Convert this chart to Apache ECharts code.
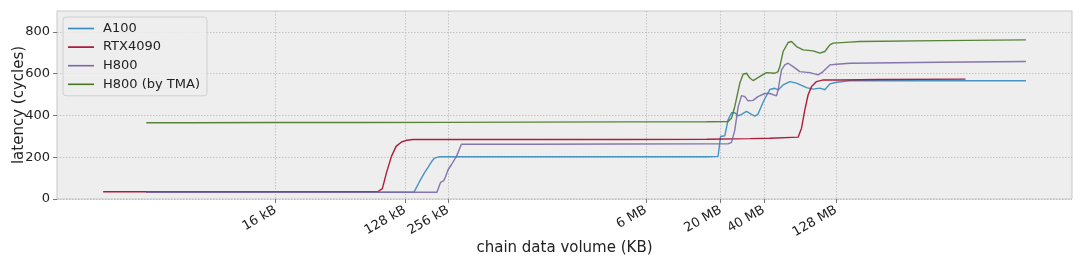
<!DOCTYPE html>
<html>
<head>
<meta charset="utf-8">
<script src="https://cdn.jsdelivr.net/npm/echarts@6/dist/echarts.min.js"></script>
<style>
html,body{margin:0;padding:0;background:#fff;}
#chart{width:1080px;height:274px;}
</style>
</head>
<body>
<div id="chart"></div>
<script>
// x tick positions (kB) and labels
const tickSizesKB = [16, 128, 256, 6144, 20480, 40960, 131072];
const tickLabels = ['16 kB', '128 kB', '256 kB', '6 MB', '20 MB', '40 MB', '128 MB'];
const yTicks = [0, 200, 400, 600, 800];

const seriesNames = ['A100', 'RTX4090', 'H800', 'H800 (by TMA)'];

// A100
const a100SizeKB = [2, 4, 16, 64, 128, 148, 162, 175, 185, 196, 206, 224, 256, 1024, 4096, 16384, 19649, 20100, 20425, 21900, 23075, 24375, 25707, 27102, 28626, 31023, 33621, 35458, 37241, 39335, 41649, 45135, 48913, 51560, 55877, 62257, 69318, 81402, 90524, 100860, 109314, 118456, 131890, 163398, 524288, 2769000];
const a100Latency = [32, 32, 32, 32, 32, 33, 84, 125, 150, 178, 196, 203, 202, 202, 202, 202, 204, 206, 299, 303, 379, 413, 413, 398, 405, 419, 405, 397, 405, 443, 481, 524, 530, 522, 546, 562, 555, 533, 526, 531, 523, 551, 559, 566, 566, 566];

// RTX4090
const rtxSizeKB = [1, 2, 4, 8, 16, 32, 64, 83, 89, 95, 103, 111, 121, 131, 146, 256, 1024, 4096, 16384, 32768, 45000, 71126, 75124, 79239, 83533, 88230, 95616, 106324, 139120, 262144, 1048576];
const rtxLatency = [35, 35, 35, 35, 35, 35, 35, 36, 50, 125, 204, 252, 273, 281, 285, 285, 285, 285, 286, 289, 291, 296, 339, 427, 499, 538, 562, 570, 570, 572, 574];

// H800
const h800SizeKB = [2, 4, 16, 64, 128, 214, 227, 239, 246, 256, 270, 293, 317, 1024, 4096, 16384, 23075, 24375, 25007, 25707, 27102, 28626, 30197, 31829, 34492, 37241, 41649, 45135, 50256, 51560, 54461, 57446, 60559, 65627, 73119, 85878, 98107, 106324, 118456, 131890, 163398, 694682, 2769000];
const h800Latency = [32, 32, 32, 32, 32, 32, 80, 88, 108, 140, 164, 204, 262, 262, 263, 264, 264, 271, 280, 330, 440, 495, 490, 470, 472, 490, 505, 505, 494, 523, 618, 642, 650, 634, 610, 605, 594, 610, 642, 645, 650, 655, 658];

// H800 (by TMA)
const tmaSizeKB = [2, 4, 16, 64, 256, 1024, 4096, 16384, 23075, 24375, 25707, 27864, 29372, 31023, 32745, 34492, 38287, 42792, 48913, 51560, 53009, 55877, 60559, 63963, 69318, 77069, 90524, 100860, 109314, 118456, 124866, 163398, 191902, 694682, 2769000];
const tmaLatency = [365, 365, 366, 366, 367, 368, 369, 370, 371, 387, 443, 555, 597, 602, 579, 567, 586, 605, 602, 610, 634, 706, 749, 754, 730, 714, 709, 698, 706, 738, 746, 751, 754, 758, 762];

const colors = ['#348ABD', '#A60628', '#7A68A6', '#467821'];

function pairs(sizes, lat) {
  return sizes.map((s, i) => [Math.log2(s), lat[i]]);
}
const tickPos = tickSizesKB.map(v => Math.log2(v));
function tickLabel(v) {
  let best = 0, bd = Infinity;
  tickPos.forEach((p, i) => { const d = Math.abs(p - v); if (d < bd) { bd = d; best = i; } });
  return bd < 1e-6 ? tickLabels[best] : '';
}

const dataSets = [
  pairs(a100SizeKB, a100Latency),
  pairs(rtxSizeKB, rtxLatency),
  pairs(h800SizeKB, h800Latency),
  pairs(tmaSizeKB, tmaLatency)
];

const font = 'DejaVu Sans';
const chart = echarts.init(document.getElementById('chart'), null, {renderer: 'canvas'});
chart.setOption({
  animation: false,
  textStyle: {fontFamily: font},
  grid: {
    left: 57, right: 8, top: 11, bottom: 75,
    show: true, backgroundColor: '#eeeeee', borderColor: '#c8c8c8', borderWidth: 1,
    outerBoundsMode: 'none', containLabel: false
  },
  legend: {
    orient: 'vertical', left: 63, top: 17,
    itemWidth: 26, itemHeight: 14, itemGap: 5.6,
    padding: [5, 7, 5, 5],
    backgroundColor: 'rgba(238,238,238,0.8)', borderColor: '#d0d0d0', borderWidth: 1, borderRadius: 3,
    textStyle: {fontFamily: font, fontSize: 13, color: '#222', padding: [0, 0, 0, 4]},
    data: seriesNames.map(n => ({name: n, icon: 'path://M0,0 L26,0 L26,1.6 L0,1.6 Z'}))
  },
  xAxis: {
    type: 'value', min: -1.07, max: 22.47,
    name: 'chain data volume (KB)', nameLocation: 'middle', nameGap: 41.5, nameMoveOverlap: false,
    nameTextStyle: {fontFamily: font, fontSize: 15, color: '#222'},
    axisLine: {show: false, onZero: false},
    axisTick: {show: true, customValues: tickPos, length: 4, lineStyle: {color: '#777', width: 1}},
    axisLabel: {customValues: tickPos, rotate: 30, margin: 10, fontFamily: font, fontSize: 13, color: '#222', formatter: tickLabel},
    splitLine: {show: true, lineStyle: {type: [1.5, 1.5], color: '#b8b8b8', width: 0.8}}
  },
  yAxis: {
    type: 'value', min: 0, max: 900, interval: 200,
    name: 'latency (cycles)', nameLocation: 'middle', nameGap: 30, nameMoveOverlap: false,
    nameTextStyle: {fontFamily: font, fontSize: 15, color: '#222'},
    axisLine: {show: false, onZero: false},
    axisTick: {show: true, customValues: yTicks, length: 4, lineStyle: {color: '#777', width: 1}},
    axisLabel: {customValues: yTicks, margin: 7, fontFamily: font, fontSize: 13, color: '#222'},
    splitLine: {show: true, lineStyle: {type: [1.5, 1.5], color: '#b8b8b8', width: 0.8}}
  },
  series: seriesNames.map((n, i) => ({
    name: n, type: 'line', data: dataSets[i], symbol: 'none',
    lineStyle: {color: colors[i], width: 1.4, opacity: 0.9},
    itemStyle: {color: colors[i]},
    z: 2 + i
  }))
});
</script>
</body>
</html>
